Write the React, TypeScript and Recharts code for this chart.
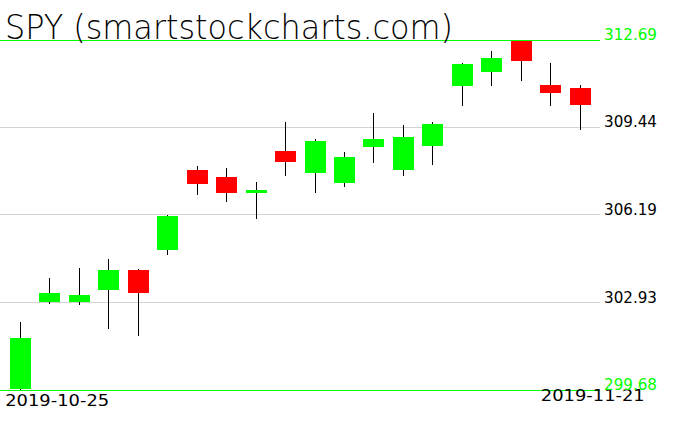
import React from 'react';
import { ComposedChart, Bar, XAxis, YAxis, CartesianGrid, ReferenceLine } from 'recharts';

const dates = [
  '2019-10-25', '2019-10-28', '2019-10-29', '2019-10-30', '2019-10-31',
  '2019-11-01', '2019-11-04', '2019-11-05', '2019-11-06', '2019-11-07',
  '2019-11-08', '2019-11-11', '2019-11-12', '2019-11-13', '2019-11-14',
  '2019-11-15', '2019-11-18', '2019-11-19', '2019-11-20', '2019-11-21',
];
const opens = [299.72, 302.95, 302.95, 303.41, 304.14, 304.9, 307.86, 307.6, 307.01, 308.56, 307.76, 307.39, 308.71, 307.86, 308.76, 310.98, 311.5, 312.66, 311.02, 310.91];
const highs = [302.21, 303.84, 304.22, 304.55, 304.16, 306.18, 308.02, 307.93, 307.41, 309.64, 309.01, 308.53, 309.98, 309.53, 309.64, 311.84, 312.28, 312.69, 311.84, 311.02];
const lows = [299.68, 302.89, 302.85, 301.96, 301.7, 304.71, 306.94, 306.68, 306.04, 307.63, 307.01, 307.24, 308.13, 307.63, 308.05, 310.25, 310.99, 311.18, 310.25, 309.36];
const closes = [301.61, 303.29, 303.21, 304.14, 303.29, 306.16, 307.35, 307.0, 307.11, 308.16, 308.94, 308.34, 309.01, 309.08, 309.57, 311.8, 312.02, 311.92, 310.73, 310.29];

const priceTicks = [299.68, 302.93, 306.19, 309.44, 312.69];
const dateTicks = ['2019-10-25', '2019-11-21'];

const data = dates.map((date, i) => ({
  date,
  open: opens[i],
  high: highs[i],
  low: lows[i],
  close: closes[i],
}));

const GREEN = '#00ff00';
const RED = '#ff0000';
const FONT = '"DejaVu Sans", sans-serif';

const Candle = (props: any) => {
  let { x, y, width, height, payload } = props;
  if (height < 0) {
    y = y + height;
    height = -height;
  }
  const { open, close, high, low } = payload;
  const ratio = high === low ? 0 : height / (high - low);
  const yOf = (v: number) => y + (high - v) * ratio;
  const cx = Math.floor(x + width / 2) + 0.5;
  const top = yOf(Math.max(open, close));
  const bottom = yOf(Math.min(open, close));
  return (
    <g shapeRendering="crispEdges">
      <line x1={cx} x2={cx} y1={y} y2={y + height} stroke="#000" strokeWidth={1} />
      <rect x={x} y={top} width={width} height={Math.max(bottom - top, 1)} fill={close >= open ? GREEN : RED} />
    </g>
  );
};

const PriceTick = (props: any) => {
  const { y, payload } = props;
  const edge = payload.value === priceTicks[0] || payload.value === priceTicks[priceTicks.length - 1];
  return (
    <text x={604} y={y} fill={edge ? GREEN : '#000'} fontSize={15} fontFamily={FONT} textLength={53} lengthAdjust="spacingAndGlyphs">
      {payload.value.toFixed(2)}
    </text>
  );
};

const DateTick = (props: any) => {
  const { x, payload } = props;
  const first = payload.value === dateTicks[0];
  return (
    <text
      x={first ? x - 15.5 : x + 64.5}
      y={first ? 406 : 401}
      textAnchor={first ? 'start' : 'end'}
      fill="#000"
      fontSize={15}
      fontFamily={FONT}
      textLength={104}
      lengthAdjust="spacingAndGlyphs"
    >
      {payload.value}
    </text>
  );
};

export default function App() {
  return (
    <div style={{ position: 'absolute', left: 0, top: 0, width: 676, height: 431, background: '#fff' }}>
      <ComposedChart width={676} height={431} data={data} margin={{ top: 40, right: 0, bottom: 0, left: 0 }}>
        <CartesianGrid vertical={false} stroke="#d3d3d3" shapeRendering="crispEdges" />
        <XAxis
          dataKey="date"
          ticks={dateTicks}
          interval={0}
          height={41}
          padding={{ left: 6, right: 5 }}
          axisLine={false}
          tickLine={false}
          tick={<DateTick />}
        />
        <YAxis
          orientation="right"
          width={76}
          domain={[299.68, 312.69]}
          allowDataOverflow
          ticks={priceTicks}
          interval={0}
          axisLine={false}
          tickLine={false}
          tick={<PriceTick />}
        />
        <ReferenceLine y={312.69} stroke={GREEN} strokeWidth={1} shapeRendering="crispEdges" />
        <ReferenceLine y={299.68} stroke={GREEN} strokeWidth={1} shapeRendering="crispEdges" />
        <Bar dataKey={(d: any) => [d.low, d.high]} barSize={21} shape={<Candle />} isAnimationActive={false} />
      </ComposedChart>
      <svg width={676} height={60} style={{ position: 'absolute', left: 0, top: 0 }}>
        <text x={5} y={39} fontSize={33} fontFamily={FONT} fontWeight={200} fill="#000" textLength={448} lengthAdjust="spacingAndGlyphs">
          SPY (smartstockcharts.com)
        </text>
      </svg>
    </div>
  );
}
